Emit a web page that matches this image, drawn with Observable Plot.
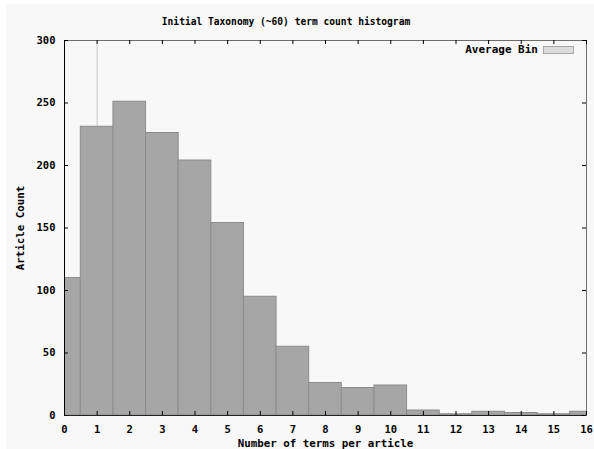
<!DOCTYPE html>
<html>
<head>
<meta charset="utf-8">
<script src="https://cdn.jsdelivr.net/npm/d3@7"></script>
<script src="https://cdn.jsdelivr.net/npm/@observablehq/plot@0.6"></script>
<style>
  html, body { margin: 0; padding: 0; background: #ffffff; }
  #wrap { position: absolute; left: 6px; top: 4px; width: 588px; height: 445px; background: #f8f8f8; overflow: hidden;
          font-family: "DejaVu Sans Mono", monospace; font-weight: bold; font-size: 10px; color: #000; }
  #title { position: absolute; left: 0px; width: 560px; top: 12px; line-height: 12px; text-align: center; font-size: 9.6px; }
  #legend { position: absolute; right: 20px; top: 40px; line-height: 12px; display: flex; align-items: center; font-size: 11px; }
  #legend .sw { display: inline-block; width: 29px; height: 6px; background: #dcdcdc; border: 1px solid #a8a8a8; margin-left: 5px; }
  svg { display: block; }
</style>
</head>
<body>
<div id="wrap">
  <div id="chart"></div>
  <div id="title"></div>
  <div id="legend"><span id="legtext"></span><span class="sw"></span></div>
</div>
<script>
// ---- data ----
const bins = [0, 1, 2, 3, 4, 5, 6, 7, 8, 9, 10, 11, 12, 13, 14, 15, 16];
const counts = [110, 231, 251, 226, 204, 154, 95, 55, 26, 22, 24, 4, 1, 3, 2, 1, 3];
const averageBin = [1];
const xTicks = [0, 1, 2, 3, 4, 5, 6, 7, 8, 9, 10, 11, 12, 13, 14, 15, 16];
const yTicks = [0, 50, 100, 150, 200, 250, 300];
const titleText = "Initial Taxonomy (~60) term count histogram";
const xLabel = "Number of terms per article";
const yLabel = "Article Count";
const legendText = "Average Bin";

const data = bins.map((b, i) => ({bin: b, count: counts[i]}));

const W = 588, H = 445;
const mL = 58, mR = 8, mT = 36, mB = 34;
const plotW = W - mL - mR, plotH = H - mT - mB;
const tk = 4;

document.getElementById("title").textContent = titleText;
document.getElementById("legtext").textContent = legendText;

const chart = Plot.plot({
  width: W,
  height: H,
  marginLeft: mL,
  marginRight: mR,
  marginTop: mT,
  marginBottom: mB,
  style: {
    fontFamily: "'DejaVu Sans Mono', monospace",
    fontSize: "10px",
    fontWeight: "bold",
    background: "transparent",
    color: "#000"
  },
  x: {type: "linear", domain: [0, 16]},
  y: {domain: [0, 300]},
  marks: [
    Plot.ruleX(averageBin, {x: d => d, stroke: "#c8c8c8", strokeWidth: 1}),
    Plot.rect(data, {
      x1: d => d.bin - 0.5, x2: d => d.bin + 0.5,
      y1: 0, y2: "count",
      fill: "#a6a6a6", stroke: "#8c8c8c", strokeWidth: 1, clip: true
    }),
    Plot.frame({stroke: "#6e6e6e"}),
    Plot.ruleX([0], {stroke: "#000"}),
    Plot.ruleY([0], {stroke: "#222"}),
    Plot.tickX(xTicks, {x: d => d, stroke: "#000", insetTop: plotH - tk}),
    Plot.tickX(xTicks, {x: d => d, stroke: "#000", insetBottom: plotH - tk}),
    Plot.tickY(yTicks, {y: d => d, stroke: "#000", insetRight: plotW - tk}),
    Plot.tickY(yTicks, {y: d => d, stroke: "#000", insetLeft: plotW - tk}),
    Plot.axisX({ticks: xTicks, tickSize: 0, tickPadding: 10, tickFormat: d => String(d), fontSize: 10.5,
      label: null}),
    Plot.axisX({ticks: [], tickSize: 0, fontSize: 10.8,
      label: xLabel, labelAnchor: "center", labelOffset: 31, labelArrow: "none"}),
    Plot.axisY({ticks: yTicks, tickSize: 0, tickPadding: 9, tickFormat: d => String(d), fontSize: 10.5,
      label: null}),
    Plot.axisY({ticks: [], tickSize: 0, fontSize: 10.8,
      label: yLabel, labelAnchor: "center", labelOffset: 48, labelArrow: "none"})
  ]
});
document.getElementById("chart").appendChild(chart);
</script>
</body>
</html>
